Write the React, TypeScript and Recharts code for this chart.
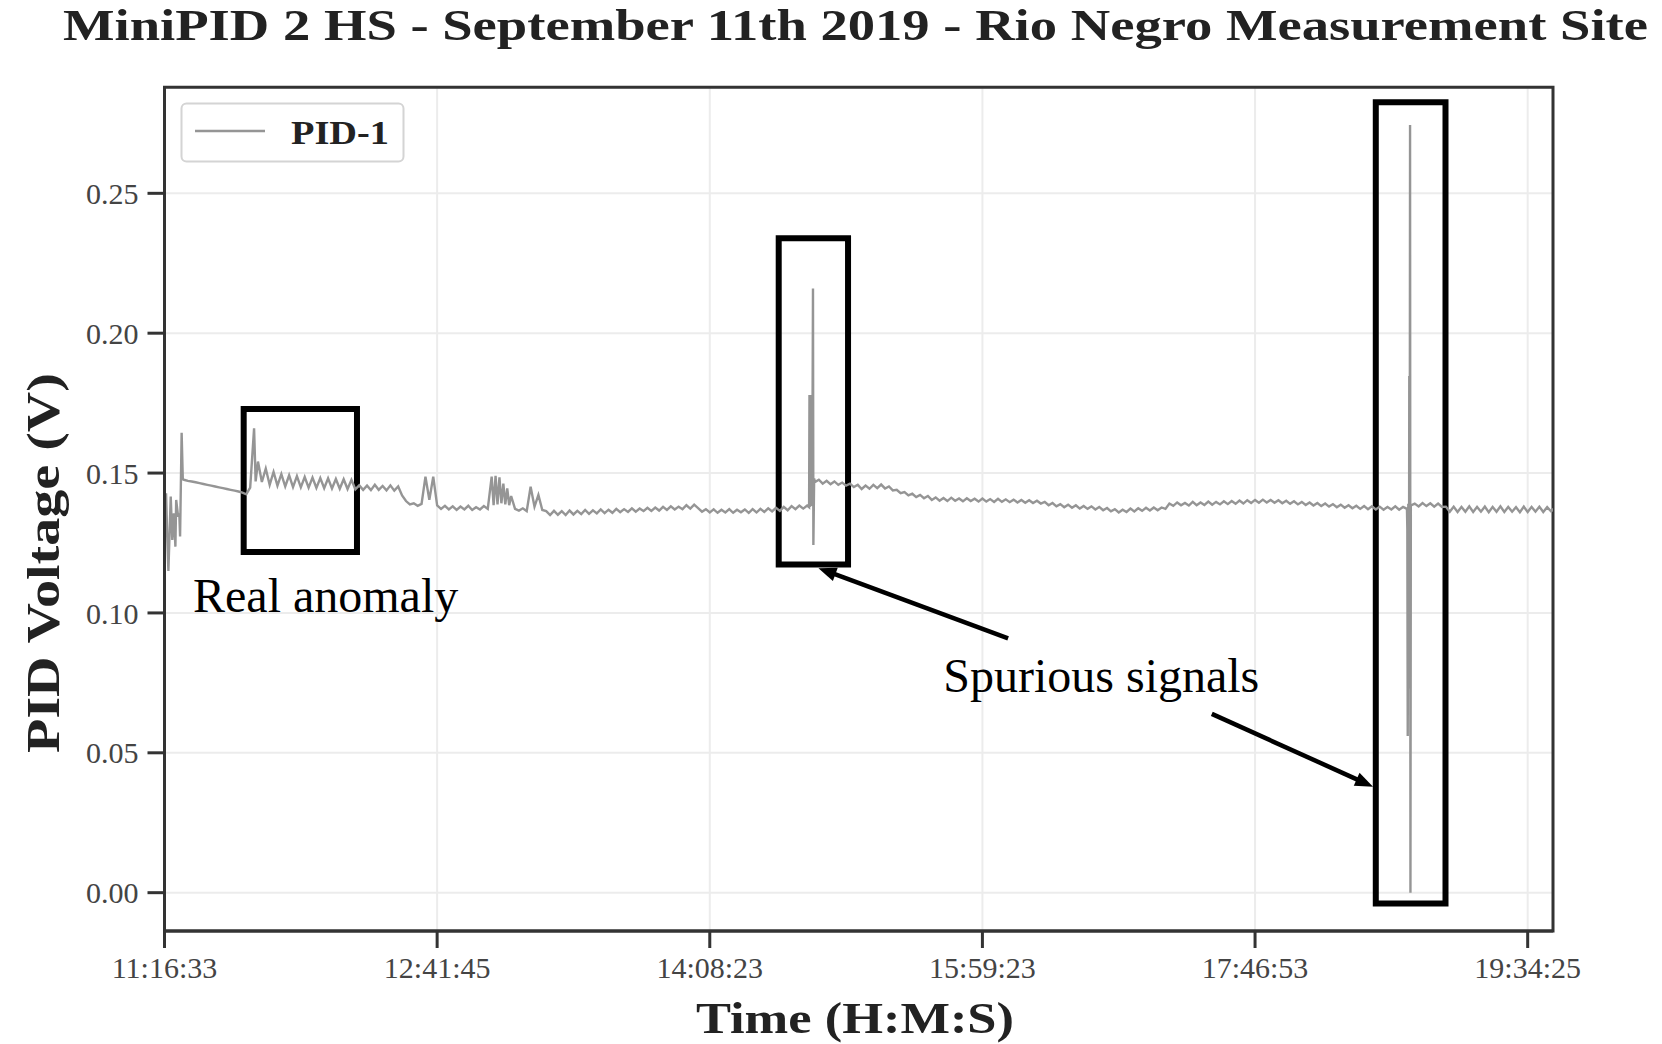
import React from 'react';
import {
  LineChart, Line, XAxis, YAxis, CartesianGrid, ReferenceArea, ReferenceLine, ReferenceDot,
} from 'recharts';

// Sample index axis (uniform samples), labelled ticks
const timeTicks = [0, 70, 140, 210, 280, 350];
const timeLabels = ['11:16:33', '12:41:45', '14:08:23', '15:59:23', '17:46:53', '19:34:25'];
const voltTicks = [0, 0.05, 0.1, 0.15, 0.2, 0.25];

// PID-1 voltage per sample (V)
const sampleVoltage = [
  0.1300, 0.1150, 0.1261, 0.1404, 0.1273, 0.1476, 0.1472, 0.1470, 0.1467, 0.1464,
  0.1461, 0.1458, 0.1455, 0.1452, 0.1449, 0.1446, 0.1443, 0.1440, 0.1437, 0.1434,
  0.1430, 0.1424, 0.1448, 0.1660, 0.1541, 0.1468, 0.1516, 0.1458, 0.1504, 0.1455,
  0.1496, 0.1452, 0.1492, 0.1450, 0.1489, 0.1449, 0.1486, 0.1448, 0.1484, 0.1447,
  0.1482, 0.1446, 0.1481, 0.1445, 0.1479, 0.1444, 0.1478, 0.1443, 0.1476, 0.1442,
  0.1456, 0.1440, 0.1455, 0.1439, 0.1458, 0.1440, 0.1454, 0.1438, 0.1456, 0.1437,
  0.1452, 0.1420, 0.1400, 0.1388, 0.1392, 0.1383, 0.1390, 0.1487, 0.1404, 0.1487,
  0.1384, 0.1372, 0.1383, 0.1370, 0.1381, 0.1368, 0.1380, 0.1370, 0.1383, 0.1368,
  0.1378, 0.1370, 0.1382, 0.1372, 0.1487, 0.1490, 0.1485, 0.1462, 0.1445, 0.1418,
  0.1372, 0.1366, 0.1374, 0.1364, 0.1451, 0.1380, 0.1422, 0.1368, 0.1364, 0.1350,
  0.1365, 0.1351, 0.1364, 0.1350, 0.1366, 0.1352, 0.1365, 0.1353, 0.1368, 0.1354,
  0.1367, 0.1356, 0.1370, 0.1357, 0.1369, 0.1358, 0.1372, 0.1360, 0.1371, 0.1361,
  0.1374, 0.1362, 0.1373, 0.1364, 0.1376, 0.1365, 0.1377, 0.1366, 0.1379, 0.1368,
  0.1381, 0.1370, 0.1380, 0.1371, 0.1385, 0.1373, 0.1387, 0.1375, 0.1362, 0.1371,
  0.1359, 0.1370, 0.1358, 0.1369, 0.1359, 0.1371, 0.1358, 0.1369, 0.1360, 0.1370,
  0.1358, 0.1371, 0.1359, 0.1372, 0.1361, 0.1374, 0.1363, 0.1376, 0.1365, 0.1379,
  0.1367, 0.1382, 0.1371, 0.1384, 0.1373, 0.1384, 0.1386, 0.1468, 0.1476, 0.1462,
  0.1472, 0.1460, 0.1470, 0.1458, 0.1466, 0.1455, 0.1462, 0.1450, 0.1458, 0.1443,
  0.1455, 0.1444, 0.1458, 0.1446, 0.1459, 0.1445, 0.1452, 0.1438, 0.1440, 0.1428,
  0.1432, 0.1420, 0.1426, 0.1414, 0.1422, 0.1410, 0.1418, 0.1404, 0.1413, 0.1401,
  0.1411, 0.1400, 0.1412, 0.1401, 0.1409, 0.1399, 0.1410, 0.1400, 0.1408, 0.1398,
  0.1409, 0.1398, 0.1407, 0.1397, 0.1408, 0.1397, 0.1406, 0.1396, 0.1405, 0.1395,
  0.1404, 0.1394, 0.1403, 0.1393, 0.1401, 0.1391, 0.1397, 0.1385, 0.1393, 0.1381,
  0.1389, 0.1378, 0.1387, 0.1376, 0.1385, 0.1373, 0.1382, 0.1372, 0.1381, 0.1370,
  0.1379, 0.1367, 0.1375, 0.1363, 0.1371, 0.1359, 0.1369, 0.1361, 0.1373, 0.1363,
  0.1374, 0.1365, 0.1376, 0.1366, 0.1377, 0.1367, 0.1377, 0.1372, 0.1391, 0.1383,
  0.1395, 0.1385, 0.1393, 0.1384, 0.1397, 0.1385, 0.1395, 0.1386, 0.1398, 0.1387,
  0.1397, 0.1388, 0.1399, 0.1389, 0.1400, 0.1390, 0.1402, 0.1391, 0.1403, 0.1393,
  0.1404, 0.1394, 0.1405, 0.1395, 0.1404, 0.1394, 0.1403, 0.1392, 0.1401, 0.1390,
  0.1399, 0.1388, 0.1397, 0.1386, 0.1395, 0.1384, 0.1393, 0.1382, 0.1391, 0.1380,
  0.1389, 0.1378, 0.1387, 0.1376, 0.1385, 0.1374, 0.1383, 0.1372, 0.1382, 0.1371,
  0.1381, 0.1370, 0.1380, 0.1369, 0.1379, 0.1370, 0.1381, 0.1369, 0.1379, 0.1372,
  0.1384, 0.1391, 0.1381, 0.1393, 0.1382, 0.1392, 0.1380, 0.1391, 0.1379, 0.1380,
  0.1362, 0.1380, 0.1361, 0.1379, 0.1362, 0.1381, 0.1361, 0.1379, 0.1362, 0.1380,
  0.1360, 0.1379, 0.1362, 0.1381, 0.1361, 0.1379, 0.1362, 0.1378, 0.1360, 0.1380,
  0.1361, 0.1379, 0.1362, 0.1380, 0.1361, 0.1378, 0.1363, 0.1377,
];

// Fast excursions recorded between regular samples (sample position, V)
const burstIdx = [0.4, 0.7, 1.6, 2.4, 2.8, 3.5, 3.8, 4.4, 4.7, 23.4,
  84.5, 85.5, 86.5, 87.5, 88.5,
  165.5, 165.6, 165.8, 165.9, 166.3, 166.5, 166.6, 166.8,
  319.1, 319.2, 319.35, 319.5, 319.6, 319.7, 319.8, 319.9];
const burstVoltage = [0.1428, 0.1273, 0.1416, 0.1356, 0.1237, 0.1344, 0.1356, 0.1644, 0.1478, 0.1470,
  0.1385, 0.1388, 0.1392, 0.1388, 0.1385,
  0.1378, 0.1779, 0.1382, 0.1779, 0.1390, 0.2160, 0.1243, 0.1481,
  0.1300, 0.0560, 0.1390, 0.0730, 0.1847, 0.0950, 0.2744, 0.0000];

// Annotation boxes [x1, x2, y1, y2] in sample / volt units
const boxX1 = [20.33, 157.7, 311.0];
const boxX2 = [49.42, 175.5, 328.9];
const boxY1 = [0.1218, 0.1173, -0.0039];
const boxY2 = [0.1729, 0.2339, 0.2826];

// Arrows: tail -> head
const arrowTailX = [216.6, 268.9];
const arrowTailY = [0.0909, 0.0639];
const arrowHeadX = [167.9, 310.3];
const arrowHeadY = [0.1160, 0.0379];

const noteText = ['Real anomaly', 'Spurious signals'];
const noteX = [7.32, 199.95];
const noteY = [0.1005, 0.0716];

const X_DOMAIN: [number, number] = [0, 356.5];
const Y_DOMAIN: [number, number] = [-0.0137, 0.2879];

const data = [
  ...sampleVoltage.map((v, i) => ({ s: i, v })),
  ...burstIdx.map((s, i) => ({ s, v: burstVoltage[i] })),
].sort((a, b) => a.s - b.s);

const SERIF = "'Liberation Serif', 'Times New Roman', serif";
const W = 1662;
const H = 1044;

const ArrowShape = (props: any) => {
  const { x1, y1, x2, y2 } = props;
  if ([x1, y1, x2, y2].some((n) => typeof n !== 'number' || isNaN(n))) return <g />;
  const dx = x2 - x1;
  const dy = y2 - y1;
  const len = Math.sqrt(dx * dx + dy * dy);
  const ux = dx / len;
  const uy = dy / len;
  const hl = 18;
  const hw = 7;
  const bx = x2 - ux * hl;
  const by = y2 - uy * hl;
  const pts = `${x2},${y2} ${bx - uy * hw},${by + ux * hw} ${bx + uy * hw},${by - ux * hw}`;
  return (
    <g>
      <line x1={x1} y1={y1} x2={bx + ux * 2} y2={by + uy * 2} stroke="#000" strokeWidth={4.5} />
      <polygon points={pts} fill="#000" />
    </g>
  );
};

const makeNote = (text: string) => (props: any) => (
  <text x={props.cx} y={props.cy} fontFamily={SERIF} fontSize={48} fill="#000" textAnchor="start">
    {text}
  </text>
);

export default function App() {
  return (
    <div style={{ position: 'absolute', left: 0, top: 0, width: W, height: H, background: '#fff' }}>
      <LineChart
        width={W}
        height={H}
        data={data}
        margin={{ top: 87.3, right: 109, left: 0, bottom: 0 }}
      >
        <CartesianGrid stroke="#ececec" strokeWidth={2} />
        <XAxis
          dataKey="s"
          type="number"
          domain={X_DOMAIN}
          allowDataOverflow
          ticks={timeTicks}
          interval={0}
          height={113}
          tickFormatter={(v: number) => timeLabels[timeTicks.indexOf(v)] ?? ''}
          tick={{ fontFamily: SERIF, fontSize: 30, fill: '#444' }}
          tickSize={17}
          tickMargin={9}
          tickLine={{ stroke: '#333', strokeWidth: 3 }}
          axisLine={{ stroke: '#333', strokeWidth: 3 }}
        />
        <YAxis
          type="number"
          domain={Y_DOMAIN}
          allowDataOverflow
          ticks={voltTicks}
          interval={0}
          width={164.5}
          tickFormatter={(v: number) => v.toFixed(2)}
          tick={{ fontFamily: SERIF, fontSize: 30, fill: '#444' }}
          tickSize={17}
          tickMargin={9}
          tickLine={{ stroke: '#333', strokeWidth: 3 }}
          axisLine={{ stroke: '#333', strokeWidth: 3 }}
        />
        <ReferenceArea
          x1={X_DOMAIN[0]} x2={X_DOMAIN[1]} y1={Y_DOMAIN[0]} y2={Y_DOMAIN[1]}
          fill="none" fillOpacity={0} stroke="#333" strokeWidth={3} ifOverflow="visible"
        />
        <Line
          type="linear"
          dataKey="v"
          stroke="#959595"
          strokeWidth={2.4}
          dot={false}
          isAnimationActive={false}
          name="PID-1"
        />
        {boxX1.map((x1, i) => (
          <ReferenceArea
            key={`box${i}`}
            x1={x1} x2={boxX2[i]} y1={boxY1[i]} y2={boxY2[i]}
            fill="none" fillOpacity={0} stroke="#000" strokeWidth={6} ifOverflow="visible"
          />
        ))}
        {arrowTailX.map((tx, i) => (
          <ReferenceLine
            key={`arrow${i}`}
            segment={[{ x: tx, y: arrowTailY[i] }, { x: arrowHeadX[i], y: arrowHeadY[i] }]}
            ifOverflow="visible"
            shape={ArrowShape}
          />
        ))}
        {noteText.map((t, i) => (
          <ReferenceDot
            key={`note${i}`}
            x={noteX[i]} y={noteY[i]} r={0}
            ifOverflow="visible"
            shape={makeNote(t)}
          />
        ))}
      </LineChart>
      <svg
        width={W}
        height={H}
        style={{ position: 'absolute', left: 0, top: 0, pointerEvents: 'none' }}
      >
        <text x={855.5} y={40} textAnchor="middle" fontFamily={SERIF} fontWeight="bold"
          fontSize={45} fill="#222" textLength={1585} lengthAdjust="spacingAndGlyphs">
          MiniPID 2 HS - September 11th 2019 - Rio Negro Measurement Site
        </text>
        <text x={855} y={1033} textAnchor="middle" fontFamily={SERIF} fontWeight="bold"
          fontSize={44} fill="#222" textLength={318} lengthAdjust="spacingAndGlyphs">
          Time (H:M:S)
        </text>
        <text x={59} y={563} textAnchor="middle" fontFamily={SERIF} fontWeight="bold"
          fontSize={46} fill="#222" textLength={380} lengthAdjust="spacingAndGlyphs"
          transform="rotate(-90 59 563)">
          PID Voltage (V)
        </text>
        <rect x={181.5} y={103.5} width={222} height={58} rx={5} ry={5}
          fill="#fff" stroke="#d4d4d4" strokeWidth={2} />
        <line x1={195} y1={131} x2={265} y2={131} stroke="#959595" strokeWidth={2.4} />
        <text x={291} y={144} fontFamily={SERIF} fontWeight="bold" fontSize={33} fill="#222"
          textLength={98} lengthAdjust="spacingAndGlyphs">
          PID-1
        </text>
      </svg>
    </div>
  );
}
